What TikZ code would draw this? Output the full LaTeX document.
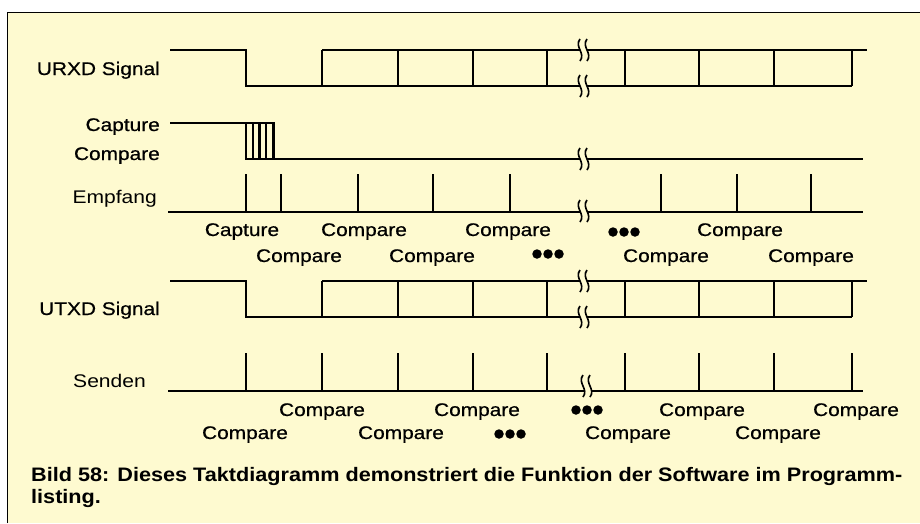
\documentclass[tikz,border=0pt]{standalone}
\usepackage{fontspec}
\setmainfont[FakeStretch=1.15]{Liberation Sans}
\newfontfamily\medfont[FakeStretch=1.14,FakeBold=0.6]{Liberation Sans}
\newfontfamily\capfont[FakeStretch=1.11]{Liberation Sans}
\definecolor{bg}{RGB}{254,250,208}
\newcommand\sigbreak[2]{%
  \fill[bg] (#1,#2-11) .. controls (#1-6,#2-3) and (#1+6,#2+3) .. (#1,#2+11)
     -- (#1+7,#2+11) .. controls (#1+13,#2+3) and (#1+1,#2-3) .. (#1+7,#2-11) -- cycle;
  \draw[brk] (#1,#2-11) .. controls (#1-6,#2-3) and (#1+6,#2+3) .. (#1,#2+11);
  \draw[brk] (#1+7,#2-11) .. controls (#1+1,#2-3) and (#1+13,#2+3) .. (#1+7,#2+11);
}
\newcommand\tdots[3]{%
  \node[dotnode] (#3a) at (#1-11,#2) {};
  \node[dotnode] (#3b) at (#1,#2) {};
  \node[dotnode] (#3c) at (#1+11,#2) {};
}
\begin{document}
\begin{tikzpicture}[x=1pt,y=-1pt,
  sig/.style={line width=2.9pt,line join=miter},
  brk/.style={line width=1.6pt},
  lbl/.style={font=\medfont\fontsize{18.3}{20}\selectfont,inner sep=0pt},
  lbll/.style={font=\fontsize{18.3}{20}\selectfont,inner sep=0pt},
  captxt/.style={font=\capfont\bfseries\fontsize{19.5}{22}\selectfont,inner sep=0pt,anchor=base west},
  dotnode/.style={circle,fill=black,inner sep=0pt,minimum size=9.5pt}]
\useasboundingbox (0,0) rectangle (920,523);
\fill[white] (0,0) rectangle (920,523);
\fill[bg] (7,12) rectangle (920,523);
\draw[line width=1pt] (7,523) -- (7,12) -- (920,12);

% URXD
\draw[sig] (170,50) -- (246,50) -- (246,86) -- (852,86);
\draw[sig] (322,50) -- (867,50);
\foreach \x in {322,398,473,547,625,699,774,852} \draw[sig] (\x,50) -- (\x,86);
\sigbreak{580}{50}
\sigbreak{580}{86}

% Capture / Compare
\draw[sig] (170,123) -- (246,123) -- (246,159) -- (863,159);
\draw[sig] (246,123) -- (273.5,123) -- (273.5,159);
\foreach \x in {253,259.5,266} \draw[sig] (\x,123) -- (\x,159);
\sigbreak{580}{159}

% Empfang
\draw[sig] (168,212) -- (863,212);
\foreach \x in {246,281,358,433,510,661,737,811} \draw[sig] (\x,174) -- (\x,212);
\sigbreak{580}{211}

% UTXD
\draw[sig] (170,281) -- (246,281) -- (246,317) -- (852,317);
\draw[sig] (322,281) -- (867,281);
\foreach \x in {322,398,473,547,625,699,774,852} \draw[sig] (\x,281) -- (\x,317);
\sigbreak{580}{281}
\sigbreak{580}{317}

% Senden
\draw[sig] (168,391) -- (863,391);
\foreach \x in {246,322,398,473,547,625,699,774,852} \draw[sig] (\x,353) -- (\x,391);
\sigbreak{583}{386}

% left labels
\node[lbl,anchor=base east] (lurxd) at (160,75) {URXD Signal};
\node[lbl,anchor=base east] (lcap) at (160,131) {Capture};
\node[lbl,anchor=base east] (lcmp) at (160,160) {Compare};
\node[lbll,anchor=base east] (lemp) at (157,203) {Empfang};
\node[lbl,anchor=base east] (lutxd) at (160,315) {UTXD Signal};
\node[lbll,anchor=base east] (lsen) at (146,387) {Senden};

% Empfang labels
\node[lbl,anchor=base] (e1) at (242,236) {Capture};
\node[lbl,anchor=base] (e2) at (364,236) {Compare};
\node[lbl,anchor=base] (e3) at (508,236) {Compare};
\tdots{624}{232}{ed1}
\node[lbl,anchor=base] (e4) at (740,236) {Compare};
\node[lbl,anchor=base] (e5) at (299,262) {Compare};
\node[lbl,anchor=base] (e6) at (432,262) {Compare};
\tdots{548}{254}{ed2}
\node[lbl,anchor=base] (e7) at (666,262) {Compare};
\node[lbl,anchor=base] (e8) at (811,262) {Compare};

% Senden labels
\node[lbl,anchor=base] (s1) at (322,416) {Compare};
\node[lbl,anchor=base] (s2) at (477,416) {Compare};
\tdots{587}{410}{sd1}
\node[lbl,anchor=base] (s3) at (702,416) {Compare};
\node[lbl,anchor=base] (s4) at (856,416) {Compare};
\node[lbl,anchor=base] (s5) at (245,439) {Compare};
\node[lbl,anchor=base] (s6) at (401,439) {Compare};
\tdots{510}{434}{sd2}
\node[lbl,anchor=base] (s7) at (628,439) {Compare};
\node[lbl,anchor=base] (s8) at (778,439) {Compare};

% caption
\node[captxt] (c1) at (31,481) {Bild 58: Dieses Taktdiagramm demonstriert die Funktion der Software im Programm-};
\node[captxt] (c2) at (31,503) {listing.};
\end{tikzpicture}
\end{document}
